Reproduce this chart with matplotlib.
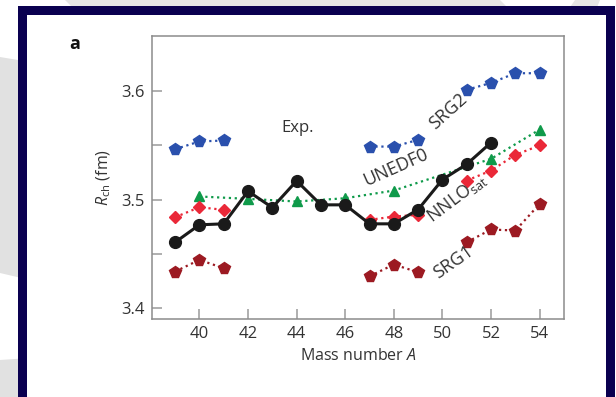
import numpy as np
import matplotlib
matplotlib.use("Agg")
import matplotlib.pyplot as plt
from matplotlib.patches import Polygon, Rectangle

plt.rcParams['font.family'] = ['Open Sans', 'DejaVu Sans']
plt.rcParams['mathtext.fontset'] = 'custom'
plt.rcParams['mathtext.rm'] = 'Open Sans'
plt.rcParams['mathtext.it'] = 'Open Sans:italic'

# Data
A_exp = [39, 40, 41, 42, 43, 44, 45, 46, 47, 48, 49, 50, 51, 52]
R_exp = [3.4606, 3.4767, 3.4776, 3.5077, 3.4926, 3.5172, 3.4951, 3.4951,
         3.4776, 3.4776, 3.4908, 3.5184, 3.5326, 3.5525]

A_full = [39, 40, 41, 42, 43, 44, 45, 46, 47, 48, 49, 50, 51, 52, 53, 54]
nan = np.nan
R_srg2 = [3.5464, 3.5535, 3.5544, nan, nan, nan, nan, nan,
          3.5488, 3.5488, 3.5550, nan, 3.6011, 3.6075, 3.6164, 3.6164]
R_nnlo = [3.4837, 3.4929, 3.4905, nan, nan, nan, nan, nan,
          3.4813, 3.4843, 3.4859, nan, 3.5175, 3.5267, 3.5412, 3.5498]
R_srg1 = [3.4336, 3.4444, 3.4367, nan, nan, nan, nan, nan,
          3.4293, 3.4401, 3.4330, nan, 3.4607, 3.4724, 3.4714, 3.4960]

A_unedf = [40, 42, 44, 46, 48, 52, 54]
R_unedf = [3.5028, 3.5006, 3.4982, 3.5012, 3.5083, 3.5375, 3.5645]

blue = '#2a50ad'
green = '#0f9a4a'
red = '#ea2838'
darkred = '#9c1a22'
navy = '#0a0050'
txt = '#333333'

fig = plt.figure(figsize=(6.16, 3.97), dpi=100, facecolor='white')

# background decoration
W, H = 616.0, 397.0
def fpoly(pts, color):
    p = Polygon([(x / W, 1 - y / H) for x, y in pts], closed=True,
                transform=fig.transFigure, facecolor=color, edgecolor='none',
                zorder=-10)
    fig.patches.append(p)

fpoly([(0, 57), (30, 62), (30, 280), (0, 273)], '#e1e1e1')
fpoly([(0, 360), (30, 358), (30, 397), (0, 397)], '#e1e1e1')
fpoly([(65, 0), (500, 0), (510, 10), (75, 10)], '#e6e6e6')
fpoly([(575, 0), (600, 0), (596, 10), (568, 10)], '#e6e6e6')
fig.patches.append(Rectangle((18 / W, -0.05), (615 - 18) / W, 1.05 - 6 / H,
                             transform=fig.transFigure, facecolor=navy,
                             edgecolor='none', zorder=-9))
fig.patches.append(Rectangle((27 / W, -0.05), (606 - 27) / W, 1.05 - 15 / H,
                             transform=fig.transFigure, facecolor='white',
                             edgecolor='none', zorder=-8))

ax = fig.add_axes([152 / W, 78 / H, 412 / W, 283 / H])
ax.set_facecolor('white')

ax.plot(A_full, R_srg2, ':', color=blue, lw=1.6, marker='p', ms=8.5,
        mec=blue, mfc=blue)
ax.plot(A_unedf, R_unedf, ':', color=green, lw=1.6, marker='^', ms=7.5,
        mec=green, mfc=green)
ax.plot(A_full, R_nnlo, ':', color=red, lw=1.6, marker='D', ms=6.5,
        mec=red, mfc=red)
ax.plot(A_full, R_srg1, ':', color=darkred, lw=1.6, marker='p', ms=8.5,
        mec=darkred, mfc=darkred)
ax.plot(A_exp, R_exp, '-', color='#1a1a1a', lw=2.2, marker='o', ms=8.5,
        mec='#1a1a1a', mfc='#1a1a1a', zorder=5)

ax.set_xlim(38.05, 55.0)
ax.set_ylim(3.3899, 3.6507)
ax.set_xticks([40, 42, 44, 46, 48, 50, 52, 54])
ax.set_yticks([3.4, 3.45, 3.5, 3.55, 3.6])
ax.set_yticklabels(['3.4', '', '3.5', '', '3.6'])
ax.tick_params(direction='in', length=7, width=1.1, color='#9a9a9a',
               labelsize=12, labelcolor=txt, pad=5)
for s in ax.spines.values():
    s.set_color('#8c8c8c')
    s.set_linewidth(1.1)

ax.set_xlabel('Mass number $\\it{A}$', fontsize=11.5, color=txt, labelpad=4)
ax.set_ylabel('$R_{\\rm ch}$ (fm)', fontsize=11.5, color=txt, labelpad=6)

# curve labels
fig.text(298 / W, 1 - 128 / H, 'Exp.', fontsize=12, color=txt,
         ha='center', va='center')
fig.text(448 / W, 1 - 111 / H, 'SRG2', fontsize=13, color=txt,
         ha='center', va='center', rotation=42)
fig.text(396 / W, 1 - 167 / H, 'UNEDF0', fontsize=13, color=txt,
         ha='center', va='center', rotation=24)
fig.text(457 / W, 1 - 198 / H, 'NNLO$_{\\rm sat}$', fontsize=13, color=txt,
         ha='center', va='center', rotation=37)
fig.text(453 / W, 1 - 262 / H, 'SRG1', fontsize=13, color=txt,
         ha='center', va='center', rotation=35)
fig.text(75 / W, 1 - 44 / H, 'a', fontsize=13, fontweight='bold',
         color='#111111', ha='center', va='center')

fig.savefig('out.png', dpi=100, facecolor='white')
